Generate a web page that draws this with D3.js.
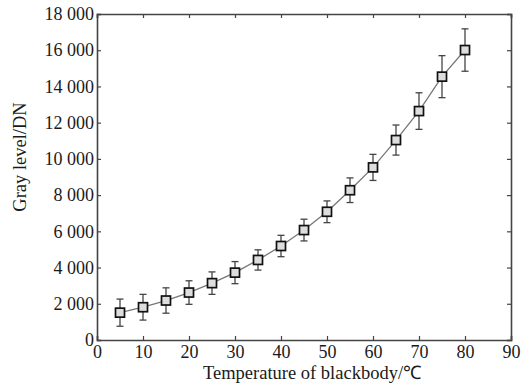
<!DOCTYPE html>
<html>
<head>
<meta charset="utf-8">
<script src="https://cdn.jsdelivr.net/npm/d3@7"></script>
<style>
  body { margin: 0; background: #fff; }
  text { font-family: "Liberation Serif", "Times New Roman", serif; fill: #1a1a1a; }
</style>
</head>
<body>
<div id="myChart"></div>
<script>
let width = 526;
let height = 385;

// data
const temps = [5, 10, 15, 20, 25, 30, 35, 40, 45, 50, 55, 60, 65, 70, 75, 80];
const gray = [1510, 1810, 2180, 2620, 3140, 3720, 4420, 5190, 6070, 7080, 8270, 9530, 11040, 12640, 14540, 16010];
const errs = [750, 710, 700, 650, 620, 610, 560, 590, 600, 600, 680, 720, 830, 1010, 1160, 1170];
const xTicks = [0, 10, 20, 30, 40, 50, 60, 70, 80, 90];
const yTicks = [0, 2000, 4000, 6000, 8000, 10000, 12000, 14000, 16000, 18000];

let margin = { left: 97, right: 15, top: 14, bottom: 45 };

let svg = d3.select("#myChart").append("svg")
  .attr("width", width)
  .attr("height", height);

let x = d3.scaleLinear().domain([0, 90]).range([margin.left, width - margin.right]);
let y = d3.scaleLinear().domain([0, 18000]).range([height - margin.bottom, margin.top]);

let fmt = d => d3.format(",")(d).replace(/,/g, " ");
let axisColor = "#444";

// bottom / left axes with inward ticks
let gx = svg.append("g")
  .attr("transform", `translate(0,${y(0)})`)
  .call(d3.axisBottom(x).tickValues(xTicks).tickSize(-4).tickPadding(5));
let gy = svg.append("g")
  .attr("transform", `translate(${x(0)},0)`)
  .call(d3.axisLeft(y).tickValues(yTicks).tickSize(-4).tickPadding(3).tickFormat(fmt));
// mirrored top / right ticks
let gt = svg.append("g")
  .attr("transform", `translate(0,${y(18000)})`)
  .call(d3.axisTop(x).tickValues(xTicks).tickSize(-4).tickFormat(""));
let gr = svg.append("g")
  .attr("transform", `translate(${x(90)},0)`)
  .call(d3.axisRight(y).tickValues(yTicks).tickSize(-4).tickFormat(""));

[gx, gy, gt, gr].forEach(g => {
  g.attr("font-family", null);
  g.select(".domain").attr("stroke", axisColor).attr("stroke-width", 1.6);
  g.selectAll(".tick line").attr("stroke", axisColor).attr("stroke-width", 1.2);
  g.selectAll(".tick text")
    .style("font-family", "'Liberation Serif', serif")
    .style("font-size", "18px")
    .attr("fill", "#1a1a1a");
});

// connecting line
svg.append("path")
  .datum(temps.map((t, i) => [t, gray[i]]))
  .attr("fill", "none")
  .attr("stroke", "#777")
  .attr("stroke-width", 1.3)
  .attr("d", d3.line().x(d => x(d[0])).y(d => y(d[1])));

// error bars
let eb = svg.append("g").attr("stroke", "#444").attr("stroke-width", 1.3);
temps.forEach((t, i) => {
  let cx = x(t);
  eb.append("line").attr("x1", cx).attr("x2", cx).attr("y1", y(gray[i] - errs[i])).attr("y2", y(gray[i] + errs[i]));
  eb.append("line").attr("x1", cx - 3.5).attr("x2", cx + 3.5).attr("y1", y(gray[i] + errs[i])).attr("y2", y(gray[i] + errs[i]));
  eb.append("line").attr("x1", cx - 3.5).attr("x2", cx + 3.5).attr("y1", y(gray[i] - errs[i])).attr("y2", y(gray[i] - errs[i]));
});

// square markers
svg.append("g")
  .selectAll("rect")
  .data(temps)
  .enter()
  .append("rect")
  .attr("x", (d) => x(d) - 4.5)
  .attr("y", (d, i) => y(gray[i]) - 4.5)
  .attr("width", 9)
  .attr("height", 9)
  .attr("fill", "#ddd")
  .attr("stroke", "#111")
  .attr("stroke-width", 1.7);

// axis titles
svg.append("text")
  .attr("x", 312)
  .attr("y", 379)
  .attr("text-anchor", "middle")
  .style("font-size", "18.5px")
  .text("Temperature of blackbody/℃");

svg.append("text")
  .attr("transform", "translate(26,157) rotate(-90)")
  .attr("text-anchor", "middle")
  .style("font-size", "18.5px")
  .text("Gray level/DN");
</script>
</body>
</html>
